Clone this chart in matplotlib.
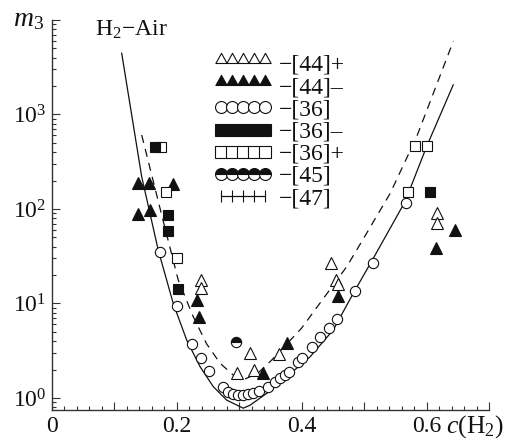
import matplotlib
matplotlib.use('Agg')
import matplotlib.pyplot as plt
import matplotlib.ticker as mticker
from matplotlib.lines import Line2D
from matplotlib.path import Path

plt.rcParams['font.family'] = ['Liberation Serif', 'DejaVu Serif']
plt.rcParams['mathtext.fontset'] = 'custom'
plt.rcParams['mathtext.rm'] = 'Liberation Serif'
plt.rcParams['mathtext.it'] = 'Liberation Serif:italic'

# ---------------- data ----------------
c_44p = [0.238, 0.238, 0.2955, 0.317, 0.324, 0.363, 0.446, 0.455, 0.457, 0.6165, 0.6165]
m_44p = [17.7, 14.5, 1.83, 2.97, 1.96, 2.95, 27.0, 17.7, 16.0, 91.5, 70.5]

c_44m = [0.138, 0.156, 0.194, 0.138, 0.157, 0.2315, 0.236, 0.337, 0.3765, 0.457, 0.614, 0.645]
m_44m = [187, 187, 185, 89.5, 98, 11.0, 7.2, 1.83, 3.85, 12.0, 38.3, 60]

c_36 = [0.173, 0.1995, 0.2245, 0.2385, 0.252, 0.273, 0.282, 0.290, 0.298, 0.306, 0.314,
        0.322, 0.331, 0.345, 0.357, 0.365, 0.373, 0.380, 0.3935, 0.3995, 0.4168, 0.4296,
        0.4435, 0.4568, 0.4848, 0.514, 0.566]
m_36 = [35.3, 9.3, 3.7, 2.68, 1.92, 1.32, 1.17, 1.10, 1.08, 1.08, 1.09,
        1.12, 1.20, 1.32, 1.49, 1.62, 1.75, 1.90, 2.42, 2.63, 3.45, 4.40,
        5.57, 6.90, 13.6, 26.6, 117]

c_36m = [0.1656, 0.186, 0.186, 0.202, 0.605]
m_36m = [453, 86.5, 59, 14.1, 152]

c_36p = [0.1744, 0.183, 0.1995, 0.570, 0.581, 0.5995]
m_36p = [453, 152, 30, 152, 460, 460]

c_45 = [0.294]
m_45 = [3.94]

c_47 = []
m_47 = []

c_solid = [0.1115, 0.1435, 0.170, 0.194, 0.2155, 0.237, 0.258, 0.2795, 0.306, 0.317,
           0.3435, 0.3755, 0.413, 0.450, 0.482, 0.514, 0.565, 0.5995, 0.642]
m_solid = [4450, 220, 36.7, 10.0, 4.1, 2.14, 1.32, 0.95, 0.78, 0.84,
           1.12, 1.68, 2.73, 5.25, 12.8, 30, 120, 460, 2060]

c_dash = [0.1435, 0.1755, 0.202, 0.226, 0.2475, 0.269, 0.29, 0.31, 0.33, 0.3515,
          0.3995, 0.4715, 0.4875, 0.541, 0.5835, 0.642]
m_dash = [607, 86.5, 17.7, 7.25, 3.73, 2.33, 1.75, 1.6, 1.85, 2.52,
          5.5, 24.5, 36.8, 146, 582, 5950]

legend_labels = ['\u2212[44]+', '\u2212[44]\u2013', '\u2212[36]', '\u2212[36]\u2013',
                 '\u2212[36]+', '\u2212[45]', '\u2212[47]']
xtick_vals = [0, 0.1, 0.2, 0.3, 0.4, 0.5, 0.6, 0.7]
xtick_labels = ['0', '', '0.2', '', '0.4', '', '0.6', '']
ytick_vals = [1, 10, 100, 1000, 10000]
ytick_labels = ['$10^0$', '$10^1$', '$10^2$', '$10^3$', '']

# ---------------- figure ----------------
W, H = 510, 441
fig = plt.figure(figsize=(W / 100, H / 100), dpi=100)
ax = fig.add_axes([52 / W, 1 - 410 / H, 437.5 / W, 390 / H])

K = '#111111'
mew = 0.8

ax.plot(c_solid, m_solid, '-', color=K, lw=0.9, zorder=2)
ax.plot(c_dash, m_dash, color=K, lw=0.9, ls=(0, (6.5, 5)), zorder=2)

ax.plot(c_36, m_36, 'o', ms=7.4, mfc='white', mec=K, mew=mew, ls='none', zorder=3)
ax.plot(c_44p, m_44p, '^', ms=8, mfc='white', mec=K, mew=mew, ls='none', zorder=4)
ax.plot(c_44m, m_44m, '^', ms=8, mfc=K, mec=K, mew=mew, ls='none', zorder=4)
ax.plot(c_36p, m_36p, 's', ms=7, mfc='white', mec=K, mew=mew, ls='none', zorder=4)
ax.plot(c_36m, m_36m, 's', ms=7, mfc=K, mec=K, mew=mew, ls='none', zorder=5)
ax.plot(c_45, m_45, 'o', ms=7.4, fillstyle='top', mfc=K, mfcalt='white', mec=K, mew=mew,
        ls='none', zorder=5)
ax.plot(c_47, m_47, '+', ms=7.4, mec=K, mew=mew, ls='none', zorder=5)

ax.set_yscale('log')
ax.set_xlim(0, 0.7)
ax.set_ylim(10 ** -0.127, 1e4)

for s in ['top', 'right']:
    ax.spines[s].set_visible(False)
for s in ['left', 'bottom']:
    ax.spines[s].set_linewidth(1.0)
    ax.spines[s].set_color('#333333')

ax.xaxis.set_major_locator(mticker.FixedLocator(xtick_vals))
ax.xaxis.set_major_formatter(mticker.FixedFormatter(xtick_labels))
ax.xaxis.set_minor_locator(mticker.MultipleLocator(0.02))
ax.yaxis.set_major_locator(mticker.FixedLocator(ytick_vals))
ax.yaxis.set_major_formatter(mticker.FixedFormatter(ytick_labels))
ax.yaxis.set_minor_locator(mticker.LogLocator(base=10, subs=range(2, 10), numticks=20))
ax.yaxis.set_minor_formatter(mticker.NullFormatter())

ax.tick_params(which='major', direction='in', length=5.5, width=0.8, color='#333333',
               labelsize=17, pad=4, labelcolor=K)
ax.tick_params(which='minor', direction='in', length=3, width=0.8, color='#333333')

# texts
fig.text(13 / W, 1 - 20 / H, '$m_3$', fontsize=20, ha='left', va='center', color=K)
fig.text(95 / W, 1 - 30 / H, 'H$_2$\u2212Air', fontsize=17, ha='left', va='center', color=K)
fig.text(446 / W, 1 - 427 / H, '$c$(H$_2$)', fontsize=18.5, ha='left', va='center', color=K)

# legend
tri_base = Path([(-1, 0), (1, 0), (0, 1.8), (-1, 0)],
                [Path.MOVETO, Path.LINETO, Path.LINETO, Path.CLOSEPOLY])
lms = 8.6
handles = [
    Line2D([], [], marker=tri_base, ms=14.6, mfc='white', mec=K, mew=mew, ls='-', lw=1.2, color=K),
    Line2D([], [], marker=tri_base, ms=14.6, mfc=K, mec=K, mew=mew, ls='-', lw=1.2, color=K),
    Line2D([], [], marker='o', ms=lms, mfc='white', mec=K, mew=mew, ls='none'),
    Line2D([], [], marker='s', ms=lms - 0.6, mfc=K, mec=K, mew=mew, ls='none'),
    Line2D([], [], marker='s', ms=lms - 0.6, mfc='white', mec=K, mew=mew, ls='none'),
    Line2D([], [], marker='o', ms=lms, fillstyle='top', mfc=K, mfcalt='white', mec=K,
           mew=mew, ls='none'),
    Line2D([], [], marker='|', ms=lms, mec=K, mew=mew, ls='-', lw=0.9, color=K),
]
leg = ax.legend(handles, legend_labels, numpoints=5, handlelength=2.45, handleheight=0.6,
                handletextpad=0.3, labelspacing=0.05, borderpad=0, borderaxespad=0,
                frameon=False, fontsize=17, loc='upper left',
                bbox_to_anchor=(214 / W, 1 - 55 / H), bbox_transform=fig.transFigure)
for t in leg.get_texts():
    t.set_color(K)

fig.savefig('out.png', dpi=100)
